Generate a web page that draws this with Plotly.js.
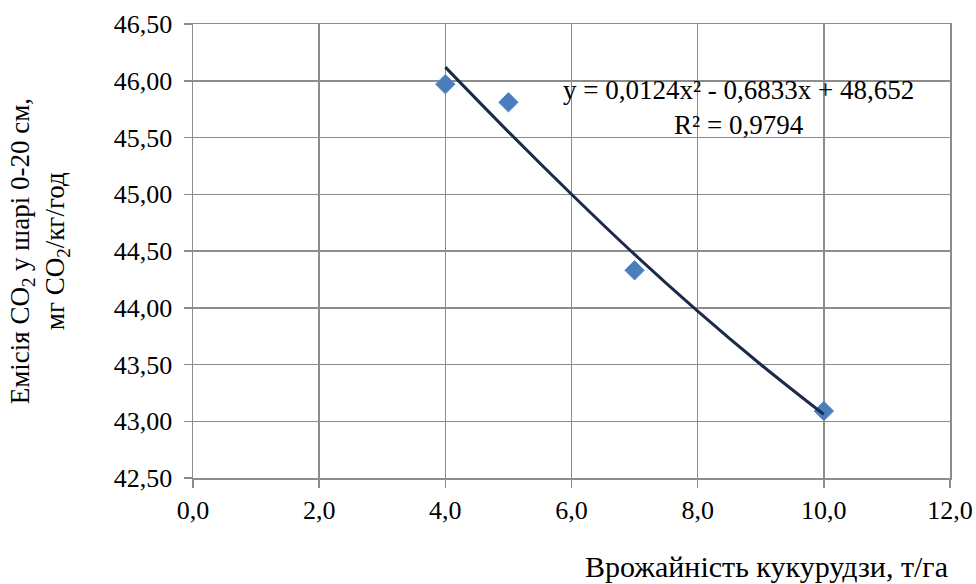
<!DOCTYPE html>
<html>
<head>
<meta charset="utf-8">
<script src="https://cdn.plot.ly/plotly-3.0.1.min.js"></script>
<style>html,body{margin:0;padding:0;background:#fff;}#chart{width:976px;height:584px;}</style>
</head>
<body>
<div id="chart"></div>
<script>
// Observed data
const yieldX = [4, 5, 7, 10];
const emission = [45.97, 45.81, 44.33, 43.09];
// Trendline
const trendX = [4, 5, 6, 7, 8, 9, 10];
const trendY = [46.12, 45.55, 45.00, 44.47, 43.97, 43.50, 43.06];
const xTicks = [0, 2, 4, 6, 8, 10, 12];
const yTicks = [42.5, 43, 43.5, 44, 44.5, 45, 45.5, 46, 46.5];
const equationText = 'y = 0,0124x² - 0,6833x + 48,652<br>R² = 0,9794';
const xTitle = 'Врожайність кукурудзи, т/га';
const yTitle = 'Емісія CO<sub>2</sub> у шарі 0-20 см,<br>мг CO<sub>2</sub>/кг/год';

const FONT = '"Times New Roman", "Liberation Serif", "DejaVu Serif", serif';
const GRID = '#8c8c8c';

const traces = [
  {
    x: yieldX, y: emission, type: 'scatter', mode: 'markers',
    marker: {symbol: 'diamond', size: 15, color: '#4a7ebb', line: {color: '#5d8fcc', width: 1}},
    hoverinfo: 'x+y', showlegend: false
  },
  {
    x: trendX, y: trendY, type: 'scatter', mode: 'lines',
    line: {color: '#1b2a49', width: 3, shape: 'spline'},
    hoverinfo: 'skip', showlegend: false
  }
];

const layout = {
  width: 976, height: 584,
  margin: {l: 193, r: 26, t: 24, b: 106},
  paper_bgcolor: '#ffffff', plot_bgcolor: '#ffffff',
  separators: ', ',
  font: {family: FONT, size: 26, color: '#000'},
  showlegend: false,
  xaxis: {
    range: [0, 12], tickvals: xTicks, tickformat: '.1f',
    showgrid: true, gridcolor: GRID, gridwidth: 1.5,
    showline: true, linecolor: GRID, linewidth: 1.5, mirror: true,
    ticks: 'outside', ticklen: 8, tickcolor: GRID, tickwidth: 1.5,
    zeroline: false, tickfont: {family: FONT, size: 26, color: '#000'}
  },
  yaxis: {
    range: [42.5, 46.5], tickvals: yTicks, tickformat: '.2f',
    showgrid: true, gridcolor: GRID, gridwidth: 1.5,
    showline: true, linecolor: GRID, linewidth: 1.5, mirror: true,
    ticks: 'outside', ticklen: 8, tickcolor: GRID, tickwidth: 1.5,
    zeroline: false, tickfont: {family: FONT, size: 26, color: '#000'},
    ticklabelstandoff: 6
  },
  annotations: [
    {
      text: equationText, xref: 'paper', yref: 'paper', x: 0.72, y: 0.816,
      xanchor: 'center', yanchor: 'middle', showarrow: false, align: 'center',
      font: {family: FONT, size: 27, color: '#000'}
    },
    {
      text: xTitle, xref: 'paper', yref: 'paper', x: 0.757, y: -0.196,
      xanchor: 'center', yanchor: 'middle', showarrow: false,
      font: {family: FONT, size: 30, color: '#000'}
    },
    {
      text: yTitle, xref: 'paper', yref: 'paper', x: -0.203, y: 0.5,
      xanchor: 'center', yanchor: 'middle', showarrow: false, textangle: -90, align: 'center',
      font: {family: FONT, size: 27, color: '#000'}
    }
  ]
};

Plotly.newPlot('chart', traces, layout, {displayModeBar: false, staticPlot: true});
</script>
</body>
</html>
